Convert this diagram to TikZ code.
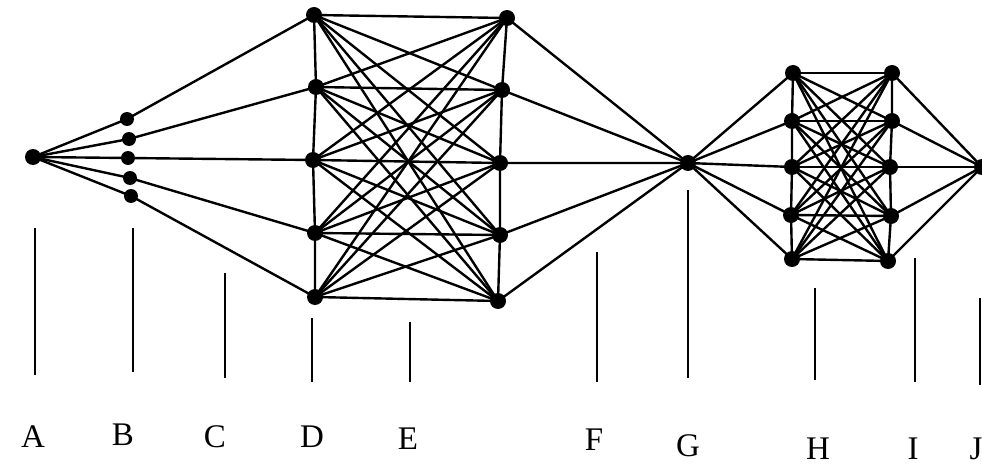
\documentclass[tikz,border=0pt]{standalone}
\usepackage{fontspec}
\setmainfont{Liberation Serif}
\begin{document}
\begin{tikzpicture}[x=1pt,y=-1pt,
  dot/.style={circle,fill=black,inner sep=0pt,minimum size=16pt},
  sdot/.style={circle,fill=black,inner sep=0pt,minimum size=14pt},
  edge/.style={line width=2.4pt},
  pointer/.style={line width=2.6pt},
  lab/.style={font=\fontsize{33}{36}\selectfont,anchor=base}]
\useasboundingbox (0,0) rectangle (982,465);
% nodes
\node[dot] (A) at (33,157) {};
\node[sdot] (B1) at (127,119) {};
\node[sdot] (B2) at (129,139) {};
\node[sdot] (B3) at (128,158) {};
\node[sdot] (B4) at (130,178) {};
\node[sdot] (B5) at (131,196) {};
\node[dot] (D1) at (314,15) {};
\node[dot] (D2) at (316,87) {};
\node[dot] (D3) at (313,160) {};
\node[dot] (D4) at (315,233) {};
\node[dot] (D5) at (315,297) {};
\node[dot] (E1) at (507,18) {};
\node[dot] (E2) at (502,90) {};
\node[dot] (E3) at (500,163) {};
\node[dot] (E4) at (500,235) {};
\node[dot] (E5) at (498,301) {};
\node[dot] (G) at (688,163) {};
\node[dot] (H1) at (793,73) {};
\node[dot] (H2) at (792,121) {};
\node[dot] (H3) at (792,167) {};
\node[dot] (H4) at (791,215) {};
\node[dot] (H5) at (792,259) {};
\node[dot] (I1) at (892,73) {};
\node[dot] (I2) at (892,121) {};
\node[dot] (I3) at (890,167) {};
\node[dot] (I4) at (891,216) {};
\node[dot] (I5) at (888,261) {};
\node[dot] (J) at (982,167) {};
% connectors
\foreach \i in {1,...,5}{
  \draw[edge] (A.center) -- (B\i.center) -- (D\i.center);
  \draw[edge] (E\i.center) -- (G.center) -- (H\i.center);
  \draw[edge] (I\i.center) -- (J.center);
  \foreach \j in {1,...,5}{
    \draw[edge] (D\i.center) -- (E\j.center);
    \draw[edge] (H\i.center) -- (I\j.center);
  }
}
\draw[edge] (D1.center) -- (D2.center) -- (D3.center) -- (D4.center) -- (D5.center);
\draw[edge] (E1.center) -- (E2.center) -- (E3.center) -- (E4.center) -- (E5.center);
\draw[edge] (H1.center) -- (H2.center) -- (H3.center) -- (H4.center) -- (H5.center);
\draw[edge] (I1.center) -- (I2.center) -- (I3.center) -- (I4.center) -- (I5.center);
% pointers
\coordinate (pA1) at (35,228); \coordinate (pA2) at (35,375);
\coordinate (pB1) at (133,228); \coordinate (pB2) at (133,372);
\coordinate (pC1) at (225,273); \coordinate (pC2) at (225,378);
\coordinate (pD1) at (312,318); \coordinate (pD2) at (312,382);
\coordinate (pE1) at (410,322); \coordinate (pE2) at (410,382);
\coordinate (pF1) at (597,252); \coordinate (pF2) at (597,382);
\coordinate (pG1) at (688,190); \coordinate (pG2) at (688,378);
\coordinate (pH1) at (815,288); \coordinate (pH2) at (815,380);
\coordinate (pI1) at (915,258); \coordinate (pI2) at (915,382);
\coordinate (pJ1) at (980,298); \coordinate (pJ2) at (980,385);
\foreach \p in {A,B,C,D,E,F,G,H,I,J}{
  \draw[pointer] (p\p1) -- (p\p2);
}
% labels
\node[lab] (lA) at (33,447) {A};
\node[lab] (lB) at (123,445) {B};
\node[lab] (lC) at (215,447) {C};
\node[lab] (lD) at (312,447) {D};
\node[lab] (lE) at (408,449) {E};
\node[lab] (lF) at (594,450) {F};
\node[lab] (lG) at (688,456) {G};
\node[lab] (lH) at (818,459) {H};
\node[lab] (lI) at (913,459) {I};
\node[lab] (lJ) at (976,459) {J};
\end{tikzpicture}
\end{document}
